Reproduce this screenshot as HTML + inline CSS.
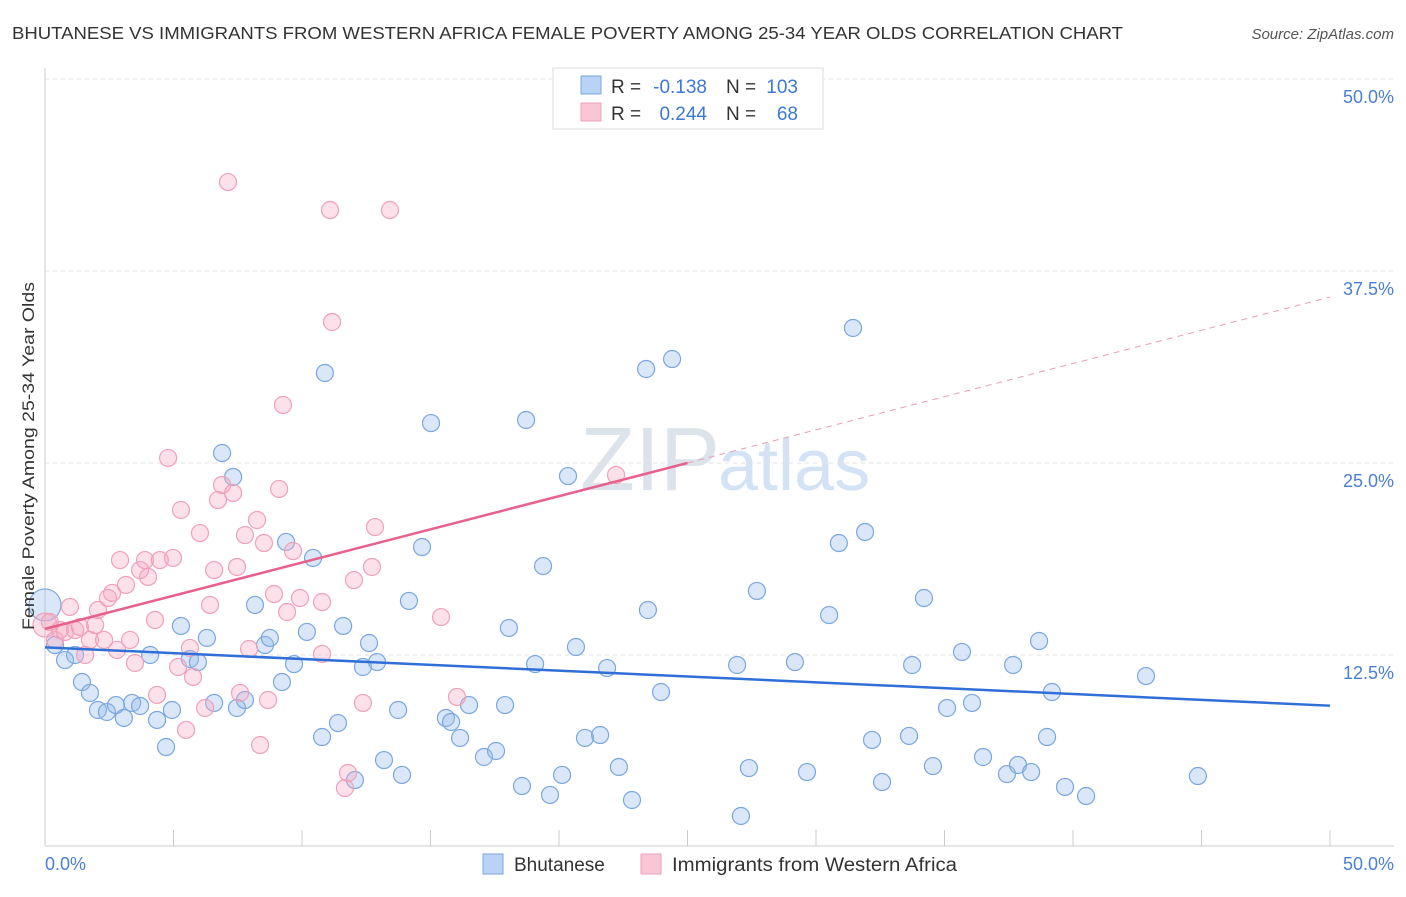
<!DOCTYPE html>
<html><head><meta charset="utf-8"><style>
body{margin:0;background:#fff;font-family:"Liberation Sans",sans-serif;}
svg text{font-family:"Liberation Sans",sans-serif;}
</style></head><body>
<svg id="c" width="1406" height="892">
<text x="12" y="39" font-size="17.5" fill="#333" textLength="1111" lengthAdjust="spacingAndGlyphs">BHUTANESE VS IMMIGRANTS FROM WESTERN AFRICA FEMALE POVERTY AMONG 25-34 YEAR OLDS CORRELATION CHART</text>
<text x="1394" y="39" font-size="15" fill="#555" font-style="italic" text-anchor="end">Source: ZipAtlas.com</text>
<text x="720" y="490" font-size="90" fill="#dde3ea" text-anchor="end" font-family="Liberation Serif">ZIP</text>
<text x="718" y="490" font-size="72" fill="#d3e3f5">atlas</text>
<g id="grid"></g><g id="pts"></g><g id="lines"></g>
<text transform="translate(34,456) rotate(-90)" font-size="17" fill="#333" text-anchor="middle" textLength="348" lengthAdjust="spacingAndGlyphs">Female Poverty Among 25-34 Year Olds</text>
<text x="45" y="870" font-size="18" fill="#4a7fd6">0.0%</text>
<text x="1394" y="870" font-size="18" fill="#4a7fd6" text-anchor="end">50.0%</text>
<g>
<rect x="553" y="68" width="270" height="61" fill="#fff" stroke="#ddd"/>
<rect x="581" y="76" width="20" height="18" fill="#b8d3f5" stroke="#7aa7e0"/>
<rect x="581" y="103" width="20" height="18" fill="#f9c6d6" stroke="#f0a0b8"/>
<text x="611" y="93" font-size="19" fill="#333">R =</text>
<text x="707" y="93" font-size="19" fill="#3c78d8" text-anchor="end">-0.138</text>
<text x="726" y="93" font-size="19" fill="#333">N =</text>
<text x="798" y="93" font-size="19" fill="#3c78d8" text-anchor="end">103</text>
<text x="611" y="120" font-size="19" fill="#333">R =</text>
<text x="707" y="120" font-size="19" fill="#3c78d8" text-anchor="end">0.244</text>
<text x="726" y="120" font-size="19" fill="#333">N =</text>
<text x="798" y="120" font-size="19" fill="#3c78d8" text-anchor="end">68</text>
</g>
<g>
<rect x="483" y="854" width="20" height="20" fill="#b8d3f5" stroke="#7aa7e0"/>
<text x="514" y="871" font-size="19" fill="#333">Bhutanese</text>
<rect x="641" y="854" width="20" height="20" fill="#f9c6d6" stroke="#f0a0b8"/>
<text x="672" y="871" font-size="19" fill="#333" textLength="285" lengthAdjust="spacingAndGlyphs">Immigrants from Western Africa</text>
</g>
</svg>
<script>
const yTicks=[12.5,25,37.5,50];
const yTickLabels=["12.5%","25.0%","37.5%","50.0%"];
const bluePx=[[45,605],[55,645],[65,660],[75,655],[82,682],[90,693],[98,710],[107,712],[116,705],[124,718],[132,703],[140,706],[150,655],[157,720],[166,747],[172,710],[181,626],[190,659],[198,662],[207,638],[214,703],[222,453],[233,477],[237,708],[245,700],[255,605],[265,645],[270,638],[282,682],[286,542],[294,664],[307,632],[313,558],[322,737],[325,373],[338,723],[343,626],[355,780],[363,667],[369,643],[377,662],[384,760],[398,710],[402,775],[409,601],[422,547],[431,423],[446,718],[451,722],[460,738],[469,705],[484,757],[496,751],[505,705],[509,628],[522,786],[526,420],[535,664],[543,566],[550,795],[562,775],[568,476],[576,647],[585,738],[600,735],[607,668],[619,767],[632,800],[646,369],[648,610],[661,692],[672,359],[737,665],[741,816],[749,768],[757,591],[795,662],[807,772],[829,615],[839,543],[853,328],[865,532],[872,740],[882,782],[909,736],[912,665],[924,598],[933,766],[947,708],[962,652],[972,703],[983,757],[1007,774],[1013,665],[1018,765],[1031,772],[1039,641],[1047,737],[1052,692],[1065,787],[1086,796],[1146,676],[1198,776]];
const pinkPx=[[45,625],[50,622],[55,640],[60,630],[65,632],[70,607],[75,630],[80,627],[85,655],[90,640],[95,625],[98,610],[104,640],[108,598],[112,593],[117,650],[120,560],[126,585],[130,640],[135,663],[140,570],[145,560],[148,577],[155,620],[157,695],[160,560],[168,458],[173,558],[178,667],[181,510],[186,730],[190,648],[193,677],[200,533],[205,708],[210,605],[214,570],[218,500],[222,485],[228,182],[233,493],[237,567],[240,693],[245,535],[249,649],[257,520],[260,745],[264,543],[268,700],[274,594],[279,489],[283,405],[287,612],[293,551],[300,598],[322,602],[322,654],[330,210],[332,322],[345,788],[348,773],[354,580],[363,703],[372,567],[375,527],[390,210],[441,617],[457,697],[616,475]];
const blueX=bluePx.map(p=>+((p[0]-45)/25.7).toFixed(2));
const blueY=bluePx.map(p=>+((847-p[1])/15.36).toFixed(2));
const pinkX=pinkPx.map(p=>+((p[0]-45)/25.7).toFixed(2));
const pinkY=pinkPx.map(p=>+((847-p[1])/15.36).toFixed(2));
const blueTrend=[13.0,9.2];
const pinkTrend=[14.2,35.8];
const X=v=>45+v*25.7, Y=v=>847-v*15.36;
const NS="http://www.w3.org/2000/svg";
function mk(t,a,parent){const e=document.createElementNS(NS,t);for(const k in a)e.setAttribute(k,a[k]);document.getElementById(parent).appendChild(e);return e;}
yTicks.forEach((t,i)=>{
 const l=mk('line',{x1:45,x2:1394,y1:Y(t),y2:Y(t),stroke:'#e2e2e2','stroke-dasharray':'4,4'},'grid');
 
 
 const tx=mk('text',{x:1394,y:Y(t)+24,'font-size':18,fill:'#4a7fd6','text-anchor':'end'},'grid');
 tx.textContent=yTickLabels[i];
 
 
});
let ax=mk('line',{x1:45,x2:45,y1:68,y2:846,stroke:'#ccc'},'grid');


ax=mk('line',{x1:45,x2:1394,y1:846,y2:846,stroke:'#ccc'},'grid');


for(let v=5;v<=50;v+=5){const t=mk('line',{x1:X(v),x2:X(v),y1:830,y2:846,stroke:'#ccc'},'grid');
 
 }
function dot(x,y,r,f,s,n){const c=mk('circle',{cx:X(x),cy:Y(y),r:r,fill:f,stroke:s,'stroke-width':1.2},'pts');
 
 }
blueX.forEach((x,i)=>dot(x,blueY[i],i==0?16:8.5,'rgba(150,185,235,0.35)','#7aa7e0','bhutanese-point'));
pinkX.forEach((x,i)=>dot(x,pinkY[i],i==0?12:8.5,'rgba(245,170,195,0.35)','#f0a0b8','western-africa-point'));
let ln=mk('line',{x1:X(0),y1:Y(blueTrend[0]),x2:X(50),y2:Y(blueTrend[1]),stroke:'#2f6fd6','stroke-width':2.5},'lines');


const pm=v=>pinkTrend[0]+(pinkTrend[1]-pinkTrend[0])*v/50;
ln=mk('line',{x1:X(0),y1:Y(pm(0)),x2:X(25),y2:Y(pm(25)),stroke:'#e8608c','stroke-width':2.5},'lines');


ln=mk('line',{x1:X(25),y1:Y(pm(25)),x2:X(50),y2:Y(pm(50)),stroke:'#e8a0b8','stroke-width':1,'stroke-dasharray':'6,5'},'lines');


</script>
</body></html>
